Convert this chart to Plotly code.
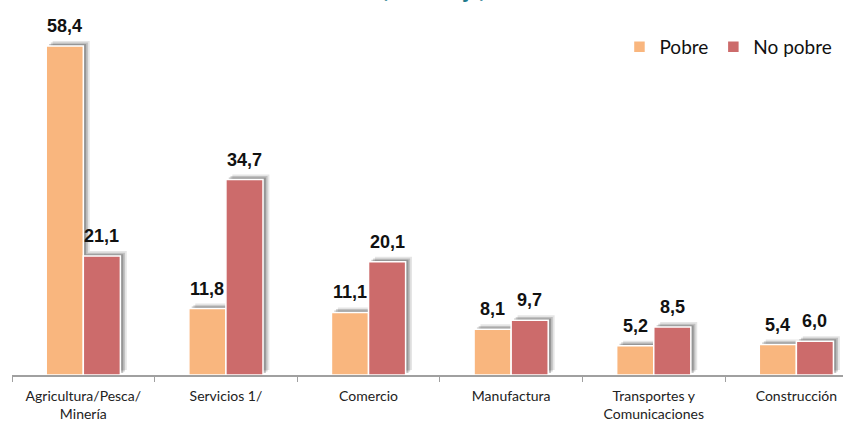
import plotly.graph_objects as go

categories = ["Agricultura/Pesca/<br>Minería", "Servicios 1/", "Comercio",
              "Manufactura", "Transportes y<br>Comunicaciones", "Construcción"]
pobre = [58.4, 11.8, 11.1, 8.1, 5.2, 5.4]
no_pobre = [21.1, 34.7, 20.1, 9.7, 8.5, 6.0]
series_names = ["Pobre", "No pobre"]
subtitle = "(Porcentaje)"

c_pobre = "#F9B67E"
c_nopobre = "#CC6B6B"
W = 0.26

fig = go.Figure()

# soft shadows
for vals, off in [(pobre, -W), (no_pobre, 0.0)]:
    for dx, op, base in [(0.045, 0.10, 0.9), (0.032, 0.16, 0.6), (0.02, 0.22, 0.35)]:
        fig.add_trace(go.Bar(
            x=categories, y=vals, base=base, width=W, offset=off + dx,
            marker=dict(color=f"rgba(0,0,0,{op})", line=dict(width=0)),
            showlegend=False, hoverinfo="skip"))

for name, vals, col, off in [(series_names[0], pobre, c_pobre, -W),
                             (series_names[1], no_pobre, c_nopobre, 0.0)]:
    fig.add_trace(go.Bar(
        name=name, x=categories, y=vals, width=W, offset=off,
        marker=dict(color=col, line=dict(color="white", width=1.5)),
        cliponaxis=False))
    for i, v in enumerate(vals):
        fig.add_annotation(
            x=i + off + W / 2, y=v, xref="x", yref="y",
            text=f"{v:.1f}".replace(".", ","), showarrow=False,
            xanchor="center", yanchor="bottom", yshift=8,
            font=dict(family="Liberation Sans", size=18, color="#111", weight="bold"))

fig.add_annotation(text=subtitle, xref="paper", yref="paper", x=0.508, y=1,
                   xanchor="center", yanchor="bottom", yshift=-5, showarrow=False,
                   font=dict(family="Open Sans", size=17, color="#1F7A8C", weight="bold"))

fig.update_layout(
    width=843, height=421,
    barmode="overlay",
    separators=",.",
    paper_bgcolor="white", plot_bgcolor="white",
    margin=dict(l=12, r=0, t=0, b=46, autoexpand=False),
    showlegend=True,
    legend=dict(orientation="h", x=0.731, xanchor="left", y=0.875, yanchor="middle",
                font=dict(family="Lato, Open Sans", size=19, color="#111"),
                bgcolor="rgba(0,0,0,0)", traceorder="normal"),
    xaxis=dict(type="category", range=[-0.5, 5.327], showline=True, automargin=False,
               linecolor="#A0A0A0", linewidth=1.5, ticks="outside", tickson="boundaries",
               ticklen=5, tickcolor="#A0A0A0", showgrid=False, ticklabelstandoff=7,
               tickfont=dict(family="Lato, Open Sans", size=14, color="#222")),
    yaxis=dict(range=[0, 66.56], visible=False, showgrid=False, automargin=False),
    font=dict(family="Lato"),
)

fig.write_html("out.html", config={"displayModeBar": False},
               post_script="document.body.style.margin='0';document.body.style.overflow='hidden';")
